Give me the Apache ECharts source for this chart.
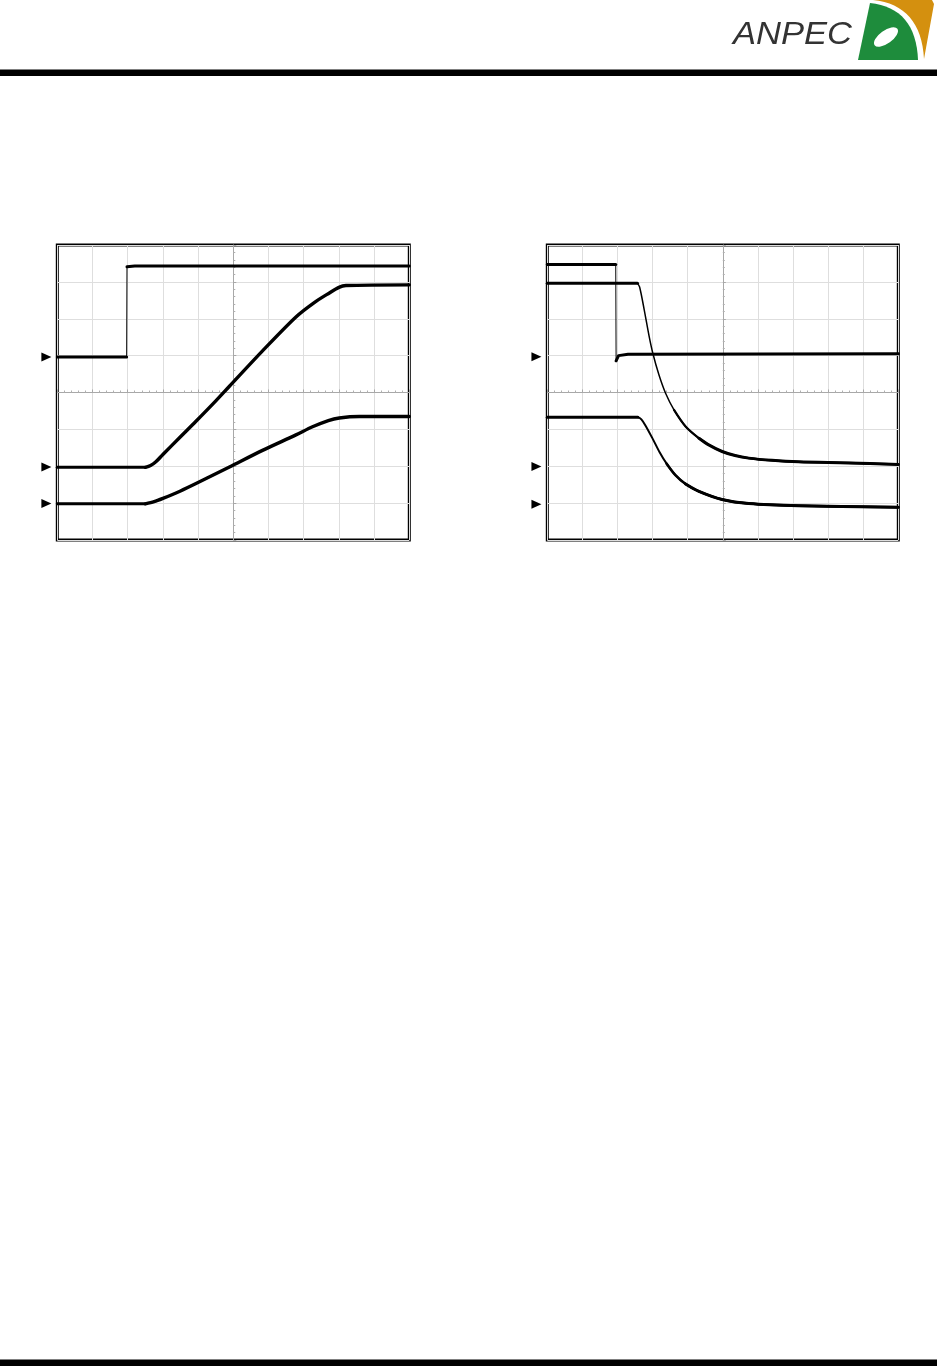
<!DOCTYPE html>
<html><head><meta charset="utf-8">
<script src="https://cdn.jsdelivr.net/npm/echarts@6/dist/echarts.min.js"></script>
<style>html,body{margin:0;padding:0;background:#fff}#c{width:937px;height:1366px}</style>
</head><body><div id="c"></div>
<script>
// Scope screen: 10 horizontal x 8 vertical divisions
const xRange = [0, 10];
const yRange = [0, 8];

// Left screen traces [division x, division y]
const leftCh1 = [[0,4.96],[1.97,4.96],[1.98,7.41],[2.2,7.43],[10,7.43]];
const leftCh2 = [[0,1.97],[2.5,1.97],[2.65,2.02],[2.8,2.12],[3.0,2.32],[3.5,2.8],[3.94,3.22],[4.51,3.78],[4.89,4.17],[5.83,5.13],[6.78,6.05],[7.3,6.44],[7.73,6.7],[8.0,6.85],[8.2,6.9],[10,6.92]];
const leftCh3 = [[0,0.98],[2.5,0.98],[2.75,1.04],[3.0,1.13],[3.5,1.33],[3.94,1.53],[4.89,1.98],[5.83,2.43],[6.78,2.85],[7.25,3.07],[7.7,3.24],[8.01,3.31],[8.58,3.35],[10,3.35]];
const leftMarkers = [4.96, 1.98, 0.99];

// Right screen traces
const rightCh1 = [[0,7.47],[1.95,7.47],[1.96,4.86],[2.03,5.0],[2.3,5.04],[10,5.05]];
const rightCh2 = [[0,6.96],[2.57,6.96],[2.63,6.86],[2.76,6.25],[2.9,5.53],[3.01,5.05],[3.18,4.48],[3.37,3.98],[3.61,3.53],[3.94,3.08],[4.32,2.76],[4.6,2.58],[4.98,2.4],[5.35,2.29],[5.74,2.22],[6.4,2.16],[7.16,2.12],[8.58,2.09],[10,2.05]];
const rightCh3 = [[0,3.33],[2.58,3.33],[2.68,3.27],[2.8,3.1],[3.0,2.75],[3.2,2.38],[3.4,2.07],[3.65,1.76],[3.94,1.52],[4.32,1.32],[4.98,1.1],[5.74,0.99],[7.16,0.93],[10,0.89]];
const rightMarkers = [4.97, 1.99, 0.97];

const logoText = 'ANPEC';

const chart = echarts.init(document.getElementById('c'), null, {renderer: 'canvas'});

// plan entries: [startIndex, endIndex, lineWidth, smooth]
function segs(data, plan, xi, yi) {
  return plan.map(([s, e, w, sm]) => ({
    type: 'line', xAxisIndex: xi, yAxisIndex: yi,
    data: data.slice(s, e + 1), symbol: 'none', showSymbol: false,
    smooth: sm || false, silent: true, z: 5,
    lineStyle: {color: '#000', width: w, cap: 'round', join: 'round'}
  }));
}
function markers(levels, xi, yi) {
  return {
    type: 'scatter', xAxisIndex: xi, yAxisIndex: yi, clip: false, silent: true, z: 6,
    symbol: 'path://M0,0 L10,4.5 L0,9 Z', symbolSize: [10, 9],
    itemStyle: {color: '#000', opacity: 1},
    data: levels.map(v => [-0.31, v])
  };
}

const gridStyle = {show: true, borderColor: '#000', borderWidth: 3, backgroundColor: 'transparent'};
const grids = [
  Object.assign({left: 57.3, top: 245, width: 352, height: 295}, gridStyle),
  Object.assign({left: 547.3, top: 245, width: 351, height: 295}, gridStyle)
];

function mainX(g) {
  return {gridIndex: g, type: 'value', min: xRange[0], max: xRange[1], interval: 1,
    axisLine: {show: false, onZero: false}, axisTick: {show: false}, axisLabel: {show: false},
    splitLine: {show: true, lineStyle: {color: '#dedede', width: 1}}};
}
function mainY(g) {
  return {gridIndex: g, type: 'value', min: yRange[0], max: yRange[1], interval: 1,
    axisLine: {show: false, onZero: false}, axisTick: {show: false}, axisLabel: {show: false},
    splitLine: {show: true, lineStyle: {color: '#dedede', width: 1}}};
}
function centerX(g, yIdx) {
  const h = (xRange[1] - xRange[0]) / 2;
  return {gridIndex: g, type: 'value', min: -h, max: h, interval: 1,
    axisLine: {show: true, onZero: true, onZeroAxisIndex: yIdx, lineStyle: {color: '#a8a8a8', width: 1}},
    axisTick: {show: true, length: 3, lineStyle: {color: '#a8a8a8'}},
    minorTick: {show: true, splitNumber: 5, length: 2, lineStyle: {color: '#b0b0b0'}},
    axisLabel: {show: false}, splitLine: {show: false}};
}
function centerY(g, xIdx) {
  const h = (yRange[1] - yRange[0]) / 2;
  return {gridIndex: g, type: 'value', min: -h, max: h, interval: 1,
    axisLine: {show: true, onZero: true, onZeroAxisIndex: xIdx, lineStyle: {color: '#a8a8a8', width: 1}},
    axisTick: {show: true, length: 3, lineStyle: {color: '#a8a8a8'}},
    minorTick: {show: true, splitNumber: 5, length: 2, lineStyle: {color: '#b0b0b0'}},
    axisLabel: {show: false}, splitLine: {show: false}};
}

const series = [].concat(
  segs(leftCh1, [[0,1,3],[1,2,1],[2,4,3]], 0, 0),
  segs(leftCh2, [[0,1,3],[1,15,3.4,0.3]], 0, 0),
  segs(leftCh3, [[0,1,3],[1,13,3.4,0.3]], 0, 0),
  [markers(leftMarkers, 0, 0)],
  segs(rightCh1, [[0,1,3],[1,2,1],[2,5,3]], 2, 2),
  segs(rightCh2, [[0,1,3],[1,18,1.5,0.3],[8,18,2.2,0.3],[10,18,3,0.3]], 2, 2),
  segs(rightCh3, [[0,1,3],[1,13,2,0.3],[6,13,2.6,0.3],[8,13,3,0.3]], 2, 2),
  [markers(rightMarkers, 2, 2)]
);

// logo outline helper (quadratic curve sampled to polygon points)
function quad(p0, c, p1, n) {
  const out = [];
  for (let i = 0; i <= n; i++) {
    const t = i / n, u = 1 - t;
    out.push([u*u*p0[0] + 2*u*t*c[0] + t*t*p1[0], u*u*p0[1] + 2*u*t*c[1] + t*t*p1[1]]);
  }
  return out;
}
const orangePts = [[873,0],[932,0],[934,4]].concat(quad([924,59],[921,5],[873,0],16));
const greenPts = [[858,60]].concat(quad([870,3],[916,8],[918,60],16));

chart.setOption({
  animation: false,
  backgroundColor: '#fff',
  grid: grids,
  xAxis: [mainX(0), centerX(0, 1), mainX(1), centerX(1, 3)],
  yAxis: [mainY(0), centerY(0, 1), mainY(1), centerY(1, 3)],
  series: series,
  graphic: [
    {type: 'rect', shape: {x: 0, y: 69.5, width: 937, height: 6.5}, style: {fill: '#000'}, silent: true},
    {type: 'rect', shape: {x: 0, y: 1359.5, width: 937, height: 6.5}, style: {fill: '#000'}, silent: true},
    {type: 'text', x: 733, y: 35, scaleX: 1.08,
      style: {text: logoText, font: 'italic 32px "Liberation Sans", Arial, sans-serif', fill: '#333', verticalAlign: 'middle', align: 'left'}},
    {type: 'polygon', shape: {points: orangePts}, style: {fill: '#d4900f'}},
    {type: 'polygon', shape: {points: greenPts}, style: {fill: '#1e8c3c'}},
    {type: 'circle', x: 886, y: 37, scaleX: 14, scaleY: 6.5, rotation: 0.62, shape: {cx: 0, cy: 0, r: 1}, style: {fill: '#fff'}}
  ]
});
</script></body></html>
